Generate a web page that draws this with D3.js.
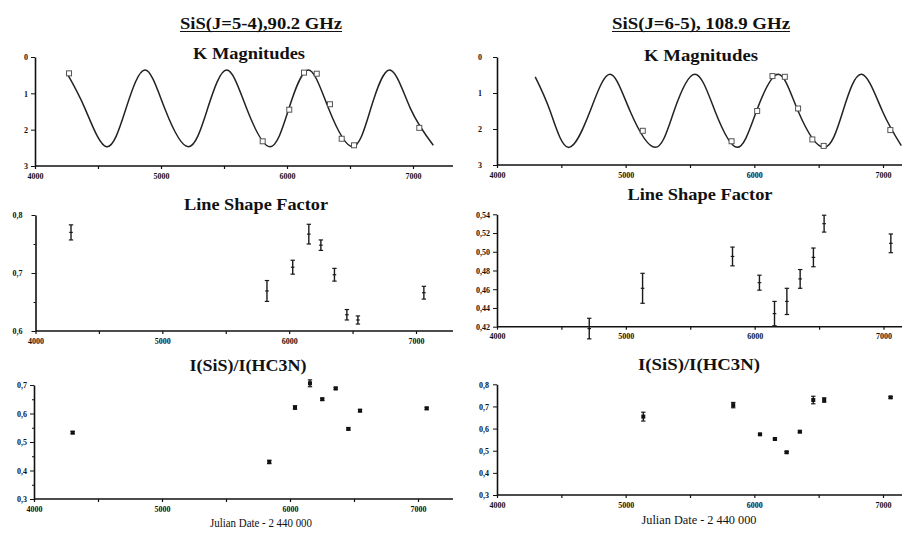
<!DOCTYPE html>
<html>
<head>
<meta charset="utf-8">
<script src="https://cdn.jsdelivr.net/npm/d3@7"></script>
<style>
body { margin: 0; background: #fff; }
svg { display: block; }
.tick text { font-family: "Liberation Serif", serif; font-weight: bold; font-size: 8px; fill: #111; }
.tick line, .domain { stroke: #111; }
.ttl { font-family: "Liberation Serif", serif; font-weight: bold; fill: #111; text-anchor: middle; }
.xlab { font-family: "Liberation Serif", serif; fill: #111; text-anchor: middle; }
</style>
</head>
<body>
<script>
// ---- data ----
// K magnitude fit curve, SiS(5-4) column
var kCurveDaysL = [4252, 4397, 4569, 4722, 4873, 5030, 5217, 5370, 5521, 5680, 5865, 6015, 6169, 6330, 6520, 6665, 6817, 6980, 7161];
var kCurveMagL  = [0.44, 1.42, 2.47, 1.42, 0.36, 1.42, 2.47, 1.42, 0.36, 1.42, 2.47, 1.42, 0.36, 1.42, 2.47, 1.42, 0.36, 1.42, 2.43];
// K magnitude fit curve, SiS(6-5) column
var kCurveDaysR = [4297, 4413, 4554, 4724, 4878, 5034, 5230, 5376, 5538, 5694, 5867, 6017, 6185, 6340, 6541, 6689, 6834, 6995, 7142];
var kCurveMagR  = [0.55, 1.50, 2.51, 1.50, 0.48, 1.50, 2.51, 1.50, 0.48, 1.50, 2.51, 1.50, 0.48, 1.50, 2.51, 1.50, 0.48, 1.50, 2.46];

// K magnitudes at the observing dates
var kObsDaysL = [4270, 5807, 6018, 6135, 6236, 6341, 6434, 6532, 7050];
var kObsMagL  = [0.45, 2.32, 1.45, 0.43, 0.46, 1.30, 2.25, 2.43, 1.95];
var kObsDaysR = [5133, 5823, 6022, 6141, 6237, 6340, 6451, 6539, 7057];
var kObsMagR  = [2.05, 2.34, 1.50, 0.53, 0.55, 1.43, 2.29, 2.47, 2.03];

// line shape factor
var lsfDaysL = [4280, 5825, 6028, 6155, 6250, 6357, 6455, 6542, 7062];
var lsfValL  = [0.770, 0.669, 0.710, 0.767, 0.748, 0.697, 0.628, 0.619, 0.666];
var lsfErrL  = [0.013, 0.018, 0.012, 0.017, 0.009, 0.011, 0.009, 0.007, 0.011];
var lsfDaysR = [4716, 5130, 5828, 6037, 6154, 6250, 6353, 6456, 6539, 7057];
var lsfValR  = [0.418, 0.461, 0.495, 0.467, 0.434, 0.447, 0.471, 0.494, 0.530, 0.509];
var lsfErrR  = [0.011, 0.016, 0.010, 0.008, 0.013, 0.014, 0.010, 0.010, 0.009, 0.010];

// I(SiS)/I(HC3N)
var ratDaysL = [4302, 5838, 6039, 6156, 6252, 6357, 6456, 6547, 7068];
var ratValL  = [0.533, 0.430, 0.621, 0.706, 0.650, 0.688, 0.546, 0.610, 0.618];
var ratErrL  = [0.004, 0.006, 0.006, 0.012, 0.004, 0.004, 0.004, 0.004, 0.004];
var ratDaysR = [5137, 5836, 6044, 6160, 6251, 6354, 6458, 6543, 7059];
var ratValR  = [0.654, 0.706, 0.574, 0.553, 0.493, 0.586, 0.729, 0.729, 0.741];
var ratErrR  = [0.020, 0.012, 0.004, 0.004, 0.004, 0.004, 0.017, 0.010, 0.004];

var headers = ["SiS(J=5-4),90.2 GHz", "SiS(J=6-5), 108.9 GHz"];
var panelTitles = ["K Magnitudes", "Line Shape Factor", "I(SiS)/I(HC3N)"];
var xLabel = "Julian Date - 2 440 000";
var xTicks = [4000, 4500, 5000, 5500, 6000, 6500, 7000];

var width = 902, height = 533;
var loc = d3.formatLocale({decimal: ",", thousands: " ", grouping: [3], currency: ["", ""]});

function zip(a, b, c) {
  return a.map(function (d, i) { return {x: d, y: b[i], e: c ? c[i] : 0}; });
}

var panels = [
  {kind: "k", x0: 35, x7: 413, xEnd: 453, yTop: 57, yBot: 166, dom: [0, 3], yt: [0, 1, 2, 3], fmt: d3.format("d"), gap: 3,
   curve: zip(kCurveDaysL, kCurveMagL), pts: zip(kObsDaysL, kObsMagL), title: panelTitles[0], tx: 249, ty: 59, tw: 112},
  {kind: "lsf", x0: 35.5, x7: 416, xEnd: 453, yTop: 215, yBot: 331, dom: [0.6, 0.8], yt: [0.6, 0.7, 0.8], minor: [0.65, 0.75], fmt: loc.format(".1f"), gap: 9,
   pts: zip(lsfDaysL, lsfValL, lsfErrL), title: panelTitles[1], tx: 256, ty: 210, tw: 144},
  {kind: "rat", x0: 34, x7: 418, xEnd: 453, yTop: 385, yBot: 499, dom: [0.3, 0.7], yt: [0.3, 0.4, 0.5, 0.6, 0.7], minor: [0.35, 0.45, 0.55, 0.65], fmt: loc.format(".1f"), gap: 3,
   pts: zip(ratDaysL, ratValL, ratErrL), title: panelTitles[2], tx: 248, ty: 371, tw: 117, xl: 261, xly: 527, xlw: 102},
  {kind: "k", x0: 497, x7: 883, xEnd: 902, yTop: 57, yBot: 165, dom: [0, 3], yt: [0, 1, 2, 3], fmt: d3.format("d"), gap: 11,
   curve: zip(kCurveDaysR, kCurveMagR), pts: zip(kObsDaysR, kObsMagR), title: panelTitles[0], tx: 701, ty: 61, tw: 114},
  {kind: "lsf", x0: 497, x7: 883.5, xEnd: 902, yTop: 214.3, yBot: 326.7, dom: [0.42, 0.54], yt: [0.42, 0.44, 0.46, 0.48, 0.50, 0.52, 0.54], fmt: loc.format(".2f"), gap: 3,
   pts: zip(lsfDaysR, lsfValR, lsfErrR), title: panelTitles[1], tx: 700, ty: 200, tw: 145},
  {kind: "rat", x0: 497, x7: 883, xEnd: 902, yTop: 384.3, yBot: 495, dom: [0.3, 0.8], yt: [0.3, 0.4, 0.5, 0.6, 0.7, 0.8], fmt: loc.format(".1f"), gap: 4,
   pts: zip(ratDaysR, ratValR, ratErrR), title: panelTitles[2], tx: 699, ty: 370, tw: 122, xl: 699, xly: 524, xlw: 115}
];

var svg = d3.select("body").append("svg")
  .attr("width", width)
  .attr("height", height);

// column headers, underlined
var hdr = [{t: headers[0], cx: 261, w: 162}, {t: headers[1], cx: 701, w: 178}];
hdr.forEach(function (h) {
  svg.append("text").attr("class", "ttl")
    .attr("x", h.cx).attr("y", 29)
    .style("font-size", "16px")
    .attr("textLength", h.w).attr("lengthAdjust", "spacingAndGlyphs")
    .text(h.t);
  svg.append("line")
    .attr("x1", h.cx - h.w / 2).attr("x2", h.cx + h.w / 2)
    .attr("y1", 31.5).attr("y2", 31.5)
    .attr("stroke", "#111").attr("stroke-width", 1.2);
});

panels.forEach(function (p) {
  var x = d3.scaleLinear().domain([4000, 7000]).range([p.x0, p.x7]);
  var y = d3.scaleLinear().domain(p.dom);
  if (p.kind == "k") y.range([p.yTop, p.yBot]);
  else y.range([p.yBot, p.yTop]);

  var g = svg.append("g");

  // title
  g.append("text").attr("class", "ttl")
    .attr("x", p.tx).attr("y", p.ty)
    .style("font-size", "16px")
    .attr("textLength", p.tw).attr("lengthAdjust", "spacingAndGlyphs")
    .text(p.title);

  // x axis
  var xa = g.append("g")
    .attr("transform", "translate(0," + p.yBot + ")")
    .call(d3.axisBottom(x).tickValues(xTicks).tickSize(3).tickPadding(4)
      .tickFormat(function (d) { return d % 1000 == 0 ? d : ""; }));
  xa.select(".domain").remove();
  xa.selectAll(".tick line").attr("stroke-width", 1.2);
  g.append("line")
    .attr("x1", p.x0).attr("x2", p.xEnd)
    .attr("y1", p.yBot).attr("y2", p.yBot)
    .attr("stroke", "#111").attr("stroke-width", 1.6);

  // y axis
  var ya = g.append("g")
    .attr("transform", "translate(" + p.x0 + ",0)")
    .call(d3.axisLeft(y).tickValues(p.yt).tickSizeInner(4).tickSizeOuter(0)
      .tickPadding(p.gap).tickFormat(p.fmt));
  ya.select(".domain").attr("stroke-width", 1.6);
  ya.selectAll(".tick text").attr("dy", "0.35em");
  if (p.minor) {
    var ym = g.append("g")
      .attr("transform", "translate(" + p.x0 + ",0)")
      .call(d3.axisLeft(y).tickValues(p.minor).tickSize(2).tickFormat(""));
    ym.select(".domain").remove();
  }

  if (p.kind == "k") {
    var line = d3.line()
      .x(function (d) { return x(d.x); })
      .y(function (d) { return y(d.y); })
      .curve(d3.curveNatural);
    g.append("path")
      .datum(p.curve)
      .attr("d", line)
      .attr("fill", "none")
      .attr("stroke", "#222")
      .attr("stroke-width", 1.5);
    g.selectAll(".kpt")
      .data(p.pts)
      .enter().append("rect")
      .attr("class", "kpt")
      .attr("x", function (d) { return x(d.x) - 2.5; })
      .attr("y", function (d) { return y(d.y) - 2.5; })
      .attr("width", 5).attr("height", 5)
      .attr("fill", "#fff")
      .attr("stroke", "#555")
      .attr("stroke-width", 1);
  } else {
    var pt = g.selectAll(".pt")
      .data(p.pts)
      .enter().append("g")
      .attr("class", "pt")
      .attr("stroke", "#1a1a1a");
    pt.append("line")
      .attr("x1", function (d) { return x(d.x); })
      .attr("x2", function (d) { return x(d.x); })
      .attr("y1", function (d) { return y(d.y - d.e); })
      .attr("y2", function (d) { return y(d.y + d.e); })
      .attr("stroke-width", 1.4);
    [-1, 1].forEach(function (s) {
      pt.append("line")
        .attr("x1", function (d) { return x(d.x) - 2.2; })
        .attr("x2", function (d) { return x(d.x) + 2.2; })
        .attr("y1", function (d) { return y(d.y + s * d.e); })
        .attr("y2", function (d) { return y(d.y + s * d.e); })
        .attr("stroke-width", 1.2);
    });
    if (p.kind == "lsf") {
      pt.append("line")
        .attr("x1", function (d) { return x(d.x) - 1.8; })
        .attr("x2", function (d) { return x(d.x) + 1.8; })
        .attr("y1", function (d) { return y(d.y); })
        .attr("y2", function (d) { return y(d.y); })
        .attr("stroke-width", 1.2);
    } else {
      pt.append("rect")
        .attr("x", function (d) { return x(d.x) - 2; })
        .attr("y", function (d) { return y(d.y) - 2; })
        .attr("width", 4).attr("height", 4)
        .attr("fill", "#111")
        .attr("stroke", "none");
    }
  }

  if (p.xl) {
    g.append("text").attr("class", "xlab")
      .attr("x", p.xl).attr("y", p.xly)
      .style("font-size", "12px")
      .attr("textLength", p.xlw).attr("lengthAdjust", "spacingAndGlyphs")
      .text(xLabel);
  }
});
</script>
</body>
</html>
